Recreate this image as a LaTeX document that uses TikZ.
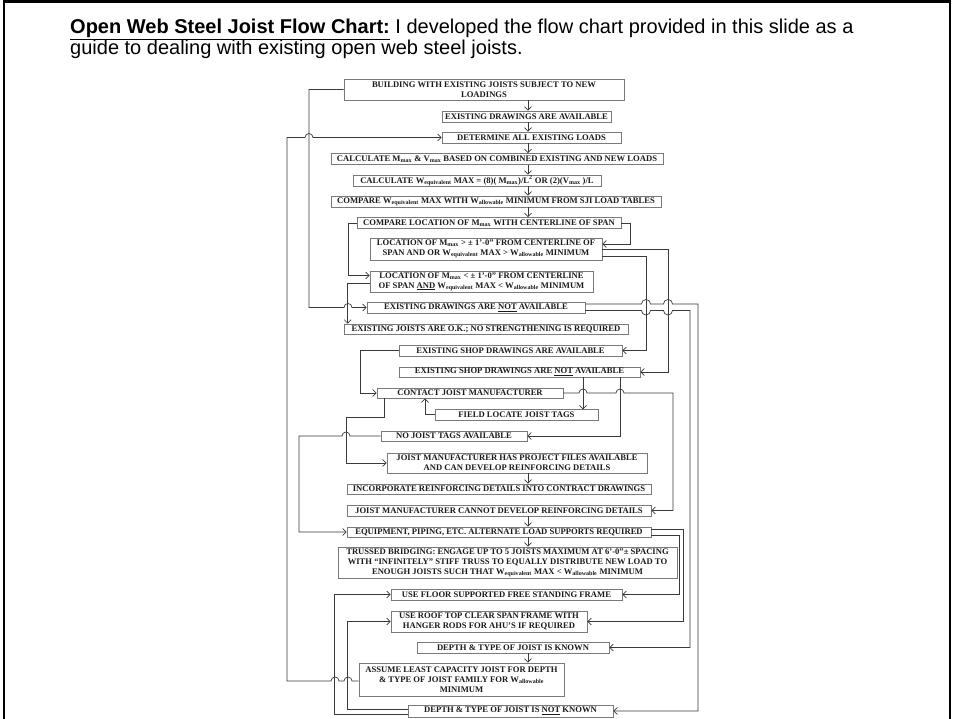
\documentclass[tikz,border=0pt]{standalone}
\usepackage{fontspec}
\setmainfont{Liberation Serif}
\newfontfamily\slidefont{Liberation Sans}
\usepackage{tikz}
\usetikzlibrary{arrows.meta, calc}
\definecolor{cLine}{HTML}{3A3A3A}
\definecolor{cBorder}{HTML}{7A7A7A}
\definecolor{cText}{HTML}{1A1A1A}

\begin{document}
\begin{tikzpicture}[
  x=1pt, y=-1pt,
  every node/.style={font=\fontsize{8.6}{10}\selectfont\bfseries, text=cText},
  box/.style={rectangle, draw=cBorder, line width=0.7pt, inner sep=0pt, align=center},
  arrow/.style={-{Straight Barb[length=3.5pt,width=7pt]}, line width=0.7pt, color=cLine},
]
\useasboundingbox (0,0) rectangle (954,719);

% Slide frame and heading
\draw[line width=2.5pt] (4,719) -- (4,1.5) -- (950,1.5) -- (950,719);
\node[anchor=north west, align=left, inner sep=0pt, text=black,
      font=\slidefont\fontsize{20}{20.5}\selectfont] (title) at (70,18.5)
  {\textbf{\underline{Open Web Steel Joist Flow Chart:}} I developed the flow chart provided in this slide as a\\
   guide to dealing with existing open web steel joists.};

% Nodes
\node[box, minimum width=280pt, minimum height=21pt] (building) at (484,89.5)
  {BUILDING WITH EXISTING JOISTS SUBJECT TO NEW\\LOADINGS};
\node[box, minimum width=169pt, minimum height=11pt] (drawings) at (526.5,116.5)
  {EXISTING DRAWINGS ARE AVAILABLE};
\node[box, minimum width=179pt, minimum height=11pt] (loads) at (531.5,137.5)
  {DETERMINE ALL EXISTING LOADS};
\node[box, minimum width=332pt, minimum height=11pt] (calcm) at (497,159)
  {CALCULATE M\textsubscript{max} \& V\textsubscript{max} BASED ON COMBINED EXISTING AND NEW LOADS};
\node[box, minimum width=248pt, minimum height=11pt] (calcw) at (477,180.5)
  {CALCULATE W\textsubscript{equivalent} MAX = (8)( M\textsubscript{max})/L\textsuperscript{2} OR (2)(V\textsubscript{max} )/L};
\node[box, minimum width=330pt, minimum height=11pt] (comparew) at (496,201.5)
  {COMPARE W\textsubscript{equivalent} MAX WITH W\textsubscript{allowable} MINIMUM FROM SJI LOAD TABLES};
\node[box, minimum width=264pt, minimum height=11pt] (compareloc) at (489,223)
  {COMPARE LOCATION OF M\textsubscript{max} WITH CENTERLINE OF SPAN};
\node[box, minimum width=232pt, minimum height=22pt] (locfar) at (486,249)
  {LOCATION OF M\textsubscript{max} > ± 1’-0” FROM CENTERLINE OF\\
   SPAN AND OR W\textsubscript{equivalent} MAX > W\textsubscript{allowable} MINIMUM};
\node[box, minimum width=223pt, minimum height=21pt] (locnear) at (481.5,281.5)
  {LOCATION OF M\textsubscript{max} < ± 1’-0” FROM CENTERLINE\\
   OF SPAN \underline{AND} W\textsubscript{equivalent} MAX < W\textsubscript{allowable} MINIMUM};
\node[box, minimum width=218pt, minimum height=11pt] (nodrawings) at (476,307.5)
  {EXISTING DRAWINGS ARE \underline{NOT} AVAILABLE};
\node[box, minimum width=284pt, minimum height=10pt] (joistsok) at (486,329)
  {EXISTING JOISTS ARE O.K.; NO STRENGTHENING IS REQUIRED};
\node[box, minimum width=223pt, minimum height=11pt] (shop) at (510.5,350.5)
  {EXISTING SHOP DRAWINGS ARE AVAILABLE};
\node[box, minimum width=241pt, minimum height=10pt] (noshop) at (519.5,372)
  {EXISTING SHOP DRAWINGS ARE \underline{NOT} AVAILABLE};
\node[box, minimum width=186pt, minimum height=10pt] (contact) at (470,393)
  {CONTACT JOIST MANUFACTURER};
\node[box, minimum width=163pt, minimum height=11pt] (fieldtags) at (516.5,414.5)
  {FIELD LOCATE JOIST TAGS};
\node[box, minimum width=146pt, minimum height=10pt] (notags) at (454,436)
  {NO JOIST TAGS AVAILABLE};
\node[box, minimum width=260pt, minimum height=20pt] (canreinf) at (517,463)
  {JOIST MANUFACTURER HAS PROJECT FILES AVAILABLE\\AND CAN DEVELOP REINFORCING DETAILS};
\node[box, minimum width=304pt, minimum height=10pt] (incorporate) at (499,489)
  {INCORPORATE REINFORCING DETAILS INTO CONTRACT DRAWINGS};
\node[box, minimum width=304pt, minimum height=11pt] (cannot) at (499,510.5)
  {JOIST MANUFACTURER CANNOT DEVELOP REINFORCING DETAILS};
\node[box, minimum width=304pt, minimum height=10pt] (equipment) at (499,532)
  {EQUIPMENT, PIPING, ETC. ALTERNATE LOAD SUPPORTS REQUIRED};
\node[box, minimum width=339pt, minimum height=31pt] (trussed) at (507.5,562.5)
  {TRUSSED BRIDGING: ENGAGE UP TO 5 JOISTS MAXIMUM AT 6’-0”± SPACING\\
   WITH “INFINITELY” STIFF TRUSS TO EQUALLY DISTRIBUTE NEW LOAD TO\\
   ENOUGH JOISTS SUCH THAT W\textsubscript{equivalent} MAX < W\textsubscript{allowable} MINIMUM};
\node[box, minimum width=231pt, minimum height=11pt] (floorframe) at (506.5,594.5)
  {USE FLOOR SUPPORTED FREE STANDING FRAME};
\node[box, minimum width=196pt, minimum height=21pt] (roofframe) at (489,621.5)
  {USE ROOF TOP CLEAR SPAN FRAME WITH\\HANGER RODS FOR AHU’S IF REQUIRED};
\node[box, minimum width=192pt, minimum height=11pt] (known) at (513,647.5)
  {DEPTH \& TYPE OF JOIST IS KNOWN};
\node[box, minimum width=205pt, minimum height=33pt] (assume) at (461.5,679.5)
  {ASSUME LEAST CAPACITY JOIST FOR DEPTH\\
   \& TYPE OF JOIST FAMILY FOR W\textsubscript{allowable}\\MINIMUM};
\node[box, minimum width=205pt, minimum height=12pt] (notknown) at (510.5,711)
  {DEPTH \& TYPE OF JOIST IS \underline{NOT} KNOWN};

% Arrows
\coordinate (spine) at (528,0);
\foreach \a/\b in {building/drawings, drawings/loads, loads/calcm, calcm/calcw,
                   calcw/comparew, comparew/compareloc, canreinf/incorporate,
                   cannot/equipment, equipment/trussed, known/assume}
  \draw[arrow] (\a.south -| spine) -- (\b.north -| spine);

\draw[arrow] (compareloc.west) -- ++(-8,0) |- ([yshift=6pt]locnear.west);
\draw[arrow] (compareloc.east) -- ++(9,0) |- ([yshift=5pt]locfar.east);
\draw[arrow] ([yshift=-2pt]locnear.west) -| ([xshift=4pt]joistsok.north west);
\draw[arrow] (building.west) -- (309,89.5) -- (309,307.5) -- (344,307.5)
  arc[start angle=180, end angle=360, radius=4] -- (nodrawings.west);
\draw[arrow] ([yshift=-1.5pt]assume.west) -- (352,681)
  arc[start angle=0, end angle=-180, radius=4] -- (339,681)
  arc[start angle=0, end angle=-180, radius=4] -- (287,681) -- (287,137.5) -- (305,137.5)
  arc[start angle=180, end angle=360, radius=4] -- (loads.west);

\draw[arrow] (locfar.east) -- ++(66,0) |- (noshop.east);
\draw[arrow] ([yshift=-7pt]locfar.east) -- ++(44,0) |- (shop.east);
\draw[arrow] ([yshift=3.5pt]nodrawings.east) -- (641.5,304)
  arc[start angle=180, end angle=360, radius=4.5] -- (663.5,304)
  arc[start angle=180, end angle=360, radius=4.5] -- (698,304) |- (notknown.east);
\draw[arrow] ([yshift=-3pt]nodrawings.east) -- (641.5,310.5)
  arc[start angle=180, end angle=0, radius=4.5] -- (663.5,310.5)
  arc[start angle=180, end angle=0, radius=4.5] -- (690,310.5) |- (known.east);

\draw[arrow] (shop.west) -- ++(-38,0) |- (contact.west);
\draw[arrow] ([xshift=63.5pt]noshop.south) -- ++(0,32);
\draw[arrow] ([xshift=100.5pt]noshop.south) |- (notags.east);
\draw[arrow] (contact.east) -- (579,393)
  arc[start angle=180, end angle=360, radius=4] -- (616,393)
  arc[start angle=180, end angle=360, radius=4] -- (673,393) |- (cannot.east);
\draw[arrow] (fieldtags.west) -| ([xshift=-45pt]contact.south);
\draw[arrow] ([xshift=-86pt]contact.south) -- ++(0,19) -- ++(-38,0) |- (canreinf.west);
\draw[arrow] (notags.west) -- (350,436)
  arc[start angle=0, end angle=-180, radius=4] -- (299,436) |- (equipment.west);

\draw[arrow] ([yshift=3pt]equipment.east) -- ++(32,0) |- (roofframe.east);
\draw[arrow] ([yshift=-3pt]equipment.east) -- ++(28,0) |- (floorframe.east);
\draw[arrow] ([yshift=2pt]notknown.west) -- ++(-60,0) |- (roofframe.west);
\draw[arrow] ([yshift=-3pt]notknown.west) -- ++(-73,0) |- (floorframe.west);

\end{tikzpicture}
\end{document}
